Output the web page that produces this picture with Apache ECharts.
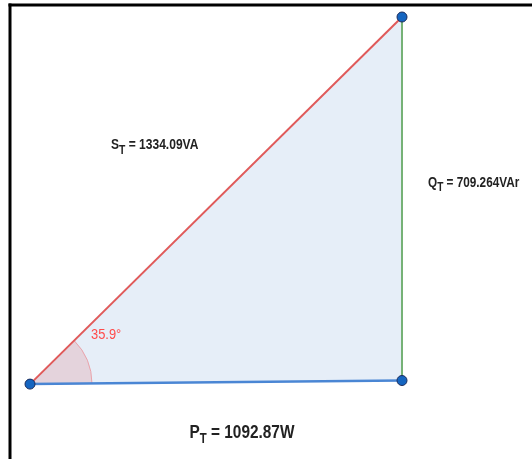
<!DOCTYPE html>
<html>
<head>
<meta charset="utf-8">
<script src="https://cdn.jsdelivr.net/npm/echarts@6/dist/echarts.min.js"></script>
<style>
html, body { margin: 0; padding: 0; background: #fff; }
#chart { width: 532px; height: 459px; }
</style>
</head>
<body>
<div id="chart"></div>
<script>
var realPower = 1092.87;      // P_T (W)
var reactivePower = 709.264;  // Q_T (VAr)
var apparentPower = 1334.09;  // S_T (VA)
var angleDeg = 35.9;
// triangle corners: origin, end of P, end of Q (origin sits a bit low in the picture)
var corners = [[0, -7], [realPower, 0], [realPower, reactivePower]];
var sideNames = ['S', 'Q', 'P'];
var sideUnits = ['VA', 'VAr', 'W'];
var sideValues = [apparentPower, reactivePower, realPower];

var FONT = '"Liberation Sans", Arial, sans-serif';

// label with subscript T; subLH controls how far the T drops below
function subLabel(i, size, subSize, lineH, subLH) {
    return {
        text: '{a|' + sideNames[i] + '}{b|T}{a| = ' + sideValues[i] + sideUnits[i] + '}',
        rich: {
            a: { fontSize: size, fontWeight: 'bold', fontFamily: FONT, fill: '#222', lineHeight: lineH, verticalAlign: 'middle' },
            b: { fontSize: subSize, fontWeight: 'bold', fontFamily: FONT, fill: '#222', lineHeight: subLH, verticalAlign: 'bottom' }
        }
    };
}

// the original uses a condensed face, so squeeze horizontally
function narrowText(x, y, sx, style) {
    style.x = 0;
    style.y = 0;
    return { type: 'text', x: x, y: y, scaleX: sx, style: style };
}

function renderTriangle(params, api) {
    var a = api.coord(corners[0]);
    var b = api.coord(corners[1]);
    var c = api.coord(corners[2]);
    var angB = Math.atan2(b[1] - a[1], b[0] - a[0]);
    var angC = Math.atan2(c[1] - a[1], c[0] - a[0]);
    var midAC = [(a[0] + c[0]) / 2, (a[1] + c[1]) / 2];
    var midBC = [(b[0] + c[0]) / 2, (b[1] + c[1]) / 2];
    var midAB = [(a[0] + b[0]) / 2, (a[1] + b[1]) / 2];

    var sLab = subLabel(0, 14, 12, 22, 9);
    var qLab = subLabel(1, 14, 12, 22, 9);
    var pLab = subLabel(2, 19, 14, 27, 17);

    function dot(p) {
        return { type: 'circle', shape: { cx: p[0], cy: p[1], r: 5 },
                 style: { fill: '#1565c0', stroke: '#1b2d5e', lineWidth: 1 } };
    }

    return {
        type: 'group',
        children: [
            { type: 'polygon', shape: { points: [a, b, c] }, style: { fill: '#e6eef8' } },
            { type: 'sector', shape: { cx: a[0], cy: a[1], r0: 0, r: 62, startAngle: angC, endAngle: angB, clockwise: true },
              style: { fill: '#e4d3dc', stroke: '#eaa3ab', lineWidth: 1 } },
            { type: 'line', shape: { x1: b[0], y1: b[1], x2: c[0], y2: c[1] }, style: { stroke: '#76b276', lineWidth: 2 } },
            { type: 'line', shape: { x1: a[0], y1: a[1], x2: c[0], y2: c[1] }, style: { stroke: '#e05a5a', lineWidth: 2 } },
            { type: 'line', shape: { x1: a[0], y1: a[1], x2: b[0], y2: b[1] }, style: { stroke: '#4a86d4', lineWidth: 2.5 } },
            dot(a), dot(b), dot(c),
            narrowText(a[0] + 61, a[1] - 49, 0.92, { text: angleDeg + '°', fill: '#ff4a4a', font: '14px ' + FONT, verticalAlign: 'middle' }),
            narrowText(midAC[0] - 105, midAC[1] - 55, 0.86, { text: sLab.text, rich: sLab.rich, verticalAlign: 'middle' }),
            narrowText(midBC[0] + 26, midBC[1] - 16, 0.84, { text: qLab.text, rich: qLab.rich, verticalAlign: 'middle' }),
            narrowText(midAB[0] + 26, midAB[1] + 50, 0.81, { text: pLab.text, rich: pLab.rich, align: 'center', verticalAlign: 'middle' })
        ]
    };
}

var chart = echarts.init(document.getElementById('chart'));
chart.setOption({
    animation: false,
    backgroundColor: '#fff',
    grid: { left: 30, right: 130, top: 17, bottom: 78.5 },
    xAxis: { type: 'value', min: 0, max: realPower, show: false },
    yAxis: { type: 'value', min: 0, max: reactivePower, show: false },
    graphic: [
        { type: 'line', shape: { x1: 10, y1: 3.5, x2: 10, y2: 459 }, style: { stroke: '#000', lineWidth: 3 } },
        { type: 'line', shape: { x1: 8.5, y1: 5, x2: 532, y2: 5 }, style: { stroke: '#000', lineWidth: 3 } }
    ],
    series: [{
        type: 'custom',
        renderItem: renderTriangle,
        data: [0],
        silent: true
    }]
});
</script>
</body>
</html>
